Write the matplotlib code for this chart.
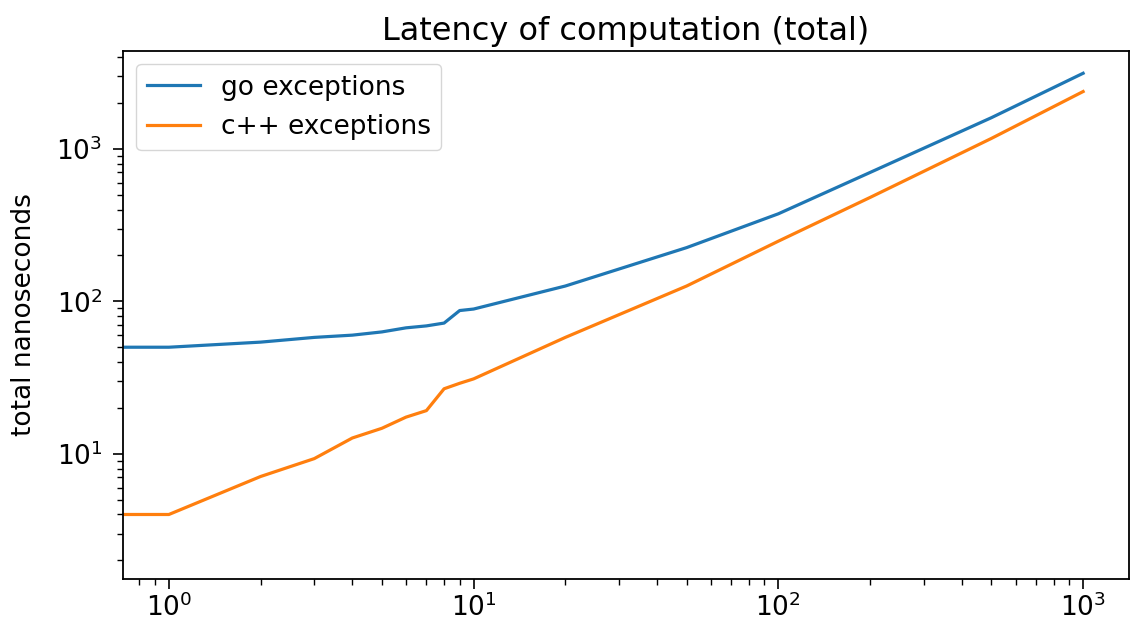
import numpy as np
import matplotlib
matplotlib.use('Agg')
import matplotlib.pyplot as plt

n_values = [0, 1, 2, 3, 4, 5, 6, 7, 8, 9, 10, 20, 50, 100, 200, 500, 1000]
go_ns = [50, 50, 54, 58, 60, 63, 67, 69, 72, 87, 89, 126, 225, 375, 700, 1600, 3130]
cpp_ns = [4.0, 4.0, 7.1, 9.3, 12.7, 14.7, 17.4, 19.2, 26.7, 29, 31, 58, 126, 248, 480, 1170, 2375]

fig = plt.figure(figsize=(11.3, 6.31), dpi=100)
ax = fig.add_axes([0.109, 0.0824, 0.89, 0.837])

ax.plot(n_values, go_ns, label='go exceptions', color='#1f77b4', linewidth=2.3)
ax.plot(n_values, cpp_ns, label='c++ exceptions', color='#ff7f0e', linewidth=2.3)

ax.set_xscale('log')
ax.set_yscale('log')
ax.set_xlim(0.708, 1413)
ax.set_ylim(1.51, 4390)

ax.set_title('Latency of computation (total)', fontsize=23, pad=8)
ax.set_ylabel('total nanoseconds', fontsize=19, labelpad=14)
ax.tick_params(labelsize=19, width=1.2, length=7)
ax.tick_params(axis='y', pad=8)
ax.tick_params(which='minor', width=1.0, length=4)
for sp in ax.spines.values():
    sp.set_linewidth(1.3)
ax.legend(loc='upper left', fontsize=19)

plt.savefig('out.png', dpi=100)
